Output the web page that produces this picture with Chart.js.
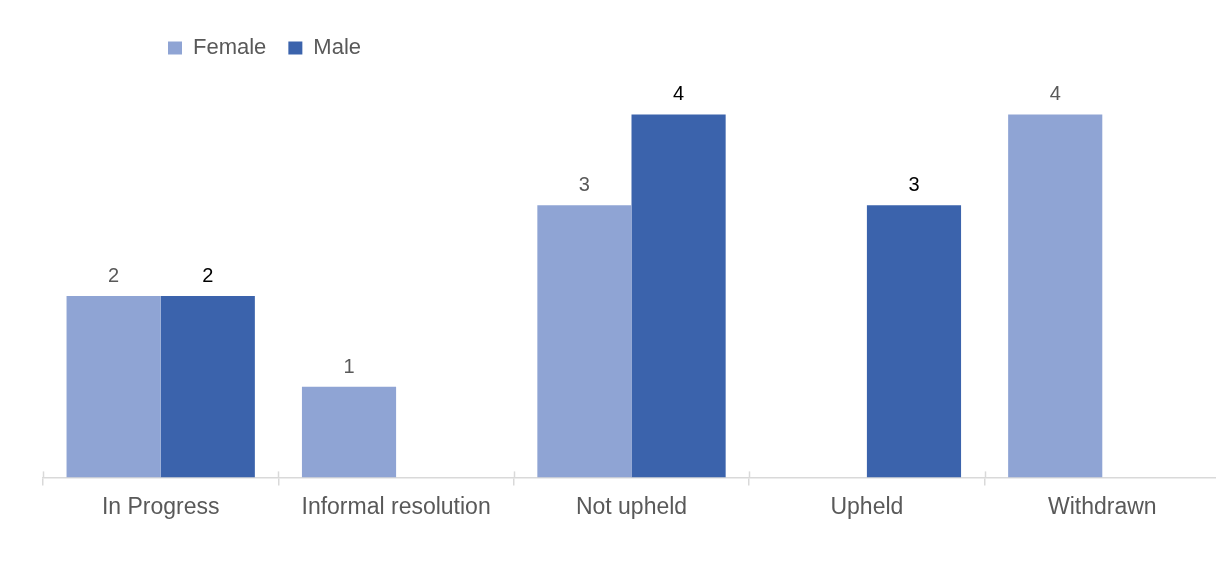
<!DOCTYPE html>
<html>
<head>
<meta charset="utf-8">
<script src="https://cdn.jsdelivr.net/npm/chart.js@4.4.1/dist/chart.umd.min.js"></script>
<style>
  html, body { margin: 0; padding: 0; background: #fff; overflow: hidden; }
  #wrap { width: 1220px; height: 563px; }
</style>
</head>
<body>
<div id="wrap"><canvas id="chart" width="1220" height="563"></canvas></div>
<script>
// Data
const categories = ['In Progress', 'Informal resolution', 'Not upheld', 'Upheld', 'Withdrawn'];
const femaleValues = [2, 1, 3, null, 4];
const maleValues = [2, null, 4, 3, null];

const FEMALE_COLOR = '#8FA4D4';
const MALE_COLOR = '#3B63AC';
const TEXT_GREY = '#595959';
const AXIS_GREY = '#D9D9D9';

// value labels above bars
const barLabels = {
  id: 'barLabels',
  afterDatasetsDraw(chart) {
    const ctx = chart.ctx;
    ctx.save();
    ctx.font = '20px "Liberation Sans", Arial, sans-serif';
    ctx.textAlign = 'center';
    ctx.textBaseline = 'alphabetic';
    chart.data.datasets.forEach((ds, i) => {
      const meta = chart.getDatasetMeta(i);
      ctx.fillStyle = i === 0 ? TEXT_GREY : '#000000';
      meta.data.forEach((bar, j) => {
        const v = ds.data[j];
        if (v === null || v === undefined) return;
        ctx.fillText(String(v), bar.x, bar.y - 14);
      });
    });
    ctx.restore();
  }
};

// small tick marks that stick up above the axis line
const axisTicks = {
  id: 'axisTicks',
  afterDraw(chart) {
    const x = chart.scales.x;
    const ctx = chart.ctx;
    const n = categories.length;
    const step = x.width / n;
    ctx.save();
    ctx.strokeStyle = AXIS_GREY;
    ctx.lineWidth = 1.5;
    for (let i = 0; i <= n; i++) {
      const px = Math.round(x.left + i * step) + 0.5;
      ctx.beginPath();
      ctx.moveTo(px, x.top - 6);
      ctx.lineTo(px, x.top);
      ctx.stroke();
    }
    ctx.restore();
  }
};

// push the legend over to the left, where it sits in the original
const legendShift = {
  id: 'legendShift',
  afterLayout(chart) {
    const lg = chart.legend;
    const dx = 146 - lg.left;
    lg.left += dx;
    lg.right += dx;
  }
};

new Chart(document.getElementById('chart'), {
  type: 'bar',
  data: {
    labels: categories,
    datasets: [
      { label: 'Female', data: femaleValues, backgroundColor: FEMALE_COLOR, categoryPercentage: 0.8, barPercentage: 1.0 },
      { label: 'Male', data: maleValues, backgroundColor: MALE_COLOR, categoryPercentage: 0.8, barPercentage: 1.0 }
    ]
  },
  options: {
    responsive: false,
    animation: false,
    layout: { padding: { left: 43, right: 0, top: 15, bottom: 34 } },
    plugins: {
      legend: {
        position: 'top',
        align: 'start',
        labels: {
          boxWidth: 14,
          boxHeight: 13,
          padding: 22,
          color: TEXT_GREY,
          font: { family: '"Liberation Sans", Arial, sans-serif', size: 22 }
        }
      },
      tooltip: { enabled: false }
    },
    scales: {
      x: {
        grid: { display: true, drawOnChartArea: false, drawTicks: true, tickLength: 8, color: AXIS_GREY, lineWidth: 1.5 },
        border: { display: true, color: AXIS_GREY, width: 1.5 },
        ticks: {
          color: TEXT_GREY,
          padding: 8,
          font: { family: '"Liberation Sans", Arial, sans-serif', size: 23 }
        }
      },
      y: {
        display: false,
        min: 0,
        max: 4.5
      }
    }
  },
  plugins: [barLabels, axisTicks, legendShift]
});
</script>
</body>
</html>
